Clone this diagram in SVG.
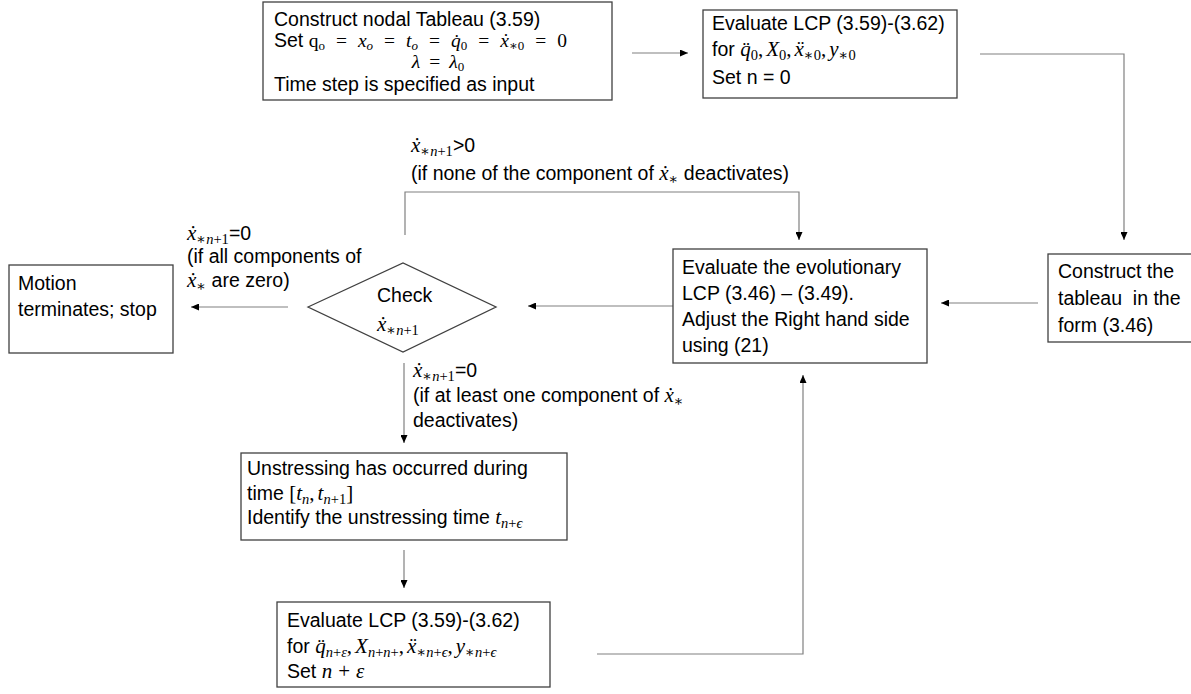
<svg xmlns="http://www.w3.org/2000/svg" width="1191" height="694" viewBox="0 0 1191 694">
<style>
.box{fill:#fff;stroke:#404040;stroke-width:1.3}
.t{font-family:"Liberation Sans",Arial,sans-serif;font-size:19.5px;fill:#000}
.mi{font-family:"Liberation Serif","DejaVu Serif",serif;font-style:italic;font-size:21px}
.mr{font-family:"Liberation Serif","DejaVu Serif",serif;font-style:normal;font-size:21px}
.si{font-family:"Liberation Serif","DejaVu Serif",serif;font-style:italic;font-size:14.5px}
.sr{font-family:"Liberation Serif","DejaVu Serif",serif;font-style:normal;font-size:14.5px}
.b1 .mi,.b1 .mr{font-size:19.5px}
.b1 .si,.b1 .sr{font-size:13px}
.conn{fill:none;stroke:#808080;stroke-width:1.2}
</style>
<defs>
<marker id="ah" markerWidth="8" markerHeight="7" refX="8" refY="3.5" orient="auto" markerUnits="userSpaceOnUse"><path d="M0,0 L8,3.5 L0,7 z" fill="#000"/></marker>
</defs>
<rect width="1191" height="694" fill="#fff"/>

<g id="connectors">
<path class="conn" d="M632,53 H688" marker-end="url(#ah)"/>
<path class="conn" d="M980,54 H1124 V240" marker-end="url(#ah)"/>
<path class="conn" d="M1038,303 H941" marker-end="url(#ah)"/>
<path class="conn" d="M673,306 H528" marker-end="url(#ah)"/>
<path class="conn" d="M288,307 H191" marker-end="url(#ah)"/>
<path class="conn" d="M405,235 V192 H799 V240" marker-end="url(#ah)"/>
<path class="conn" d="M404,363 V443" marker-end="url(#ah)"/>
<path class="conn" d="M404,550 V588" marker-end="url(#ah)"/>
<path class="conn" d="M597,654 H803 V375" marker-end="url(#ah)"/>
</g>

<g id="node-init" class="b1">
<rect class="box" x="263" y="2" width="349" height="98"/>
<text class="t" x="274" y="26">Construct nodal Tableau (3.59)</text>
<text class="t" x="274" y="47">Set <tspan class="mr">q</tspan><tspan class="sr" dy="3">o</tspan><tspan class="mr" dy="-3" dx="11">=</tspan><tspan class="mi" dx="11">x</tspan><tspan class="si" dy="3">o</tspan><tspan class="mr" dy="-3" dx="11">=</tspan><tspan class="mi" dx="11">t</tspan><tspan class="si" dy="3">o</tspan><tspan class="mr" dy="-3" dx="11">=</tspan><tspan class="mi" dx="11">q&#775;</tspan><tspan class="sr" dy="3">0</tspan><tspan class="mr" dy="-3" dx="11">=</tspan><tspan class="mi" dx="11">x&#775;</tspan><tspan class="sr" dy="3">∗0</tspan><tspan class="mr" dy="-3" dx="11">=</tspan><tspan class="mr" dx="11">0</tspan></text>
<text class="mi" x="438" y="68" text-anchor="middle">λ<tspan class="mr" dx="9">=</tspan><tspan dx="9">λ</tspan><tspan class="sr" dy="3">0</tspan></text>
<text class="t" x="274" y="91">Time step is specified as input</text>
</g>

<g id="node-lcp0">
<rect class="box" x="703" y="10" width="254" height="88"/>
<text class="t" x="712" y="30">Evaluate LCP (3.59)-(3.62)</text>
<text class="t" x="712" y="56">for <tspan class="mi">q&#776;</tspan><tspan class="sr" dy="4">0</tspan><tspan class="mr" dy="-4">,</tspan><tspan class="mi" dx="3">X</tspan><tspan class="sr" dy="4">0</tspan><tspan class="mr" dy="-4">,</tspan><tspan class="mi" dx="3">x&#776;</tspan><tspan class="sr" dy="4">∗0</tspan><tspan class="mr" dy="-4">,</tspan><tspan class="mi" dx="3">y</tspan><tspan class="sr" dy="4">∗0</tspan></text>
<text class="t" x="712" y="84">Set n = 0</text>
</g>

<g id="node-construct">
<rect class="box" x="1048" y="254" width="150" height="88"/>
<text class="t" x="1058" y="278">Construct the</text>
<text class="t" x="1058" y="305">tableau&#160; in the</text>
<text class="t" x="1058" y="332">form (3.46)</text>
</g>

<g id="node-evolve">
<rect class="box" x="673" y="249" width="254" height="114"/>
<text class="t" x="682" y="274">Evaluate the evolutionary</text>
<text class="t" x="682" y="300">LCP (3.46) – (3.49).</text>
<text class="t" x="682" y="326">Adjust the Right hand side</text>
<text class="t" x="682" y="352">using (21)</text>
</g>

<g id="node-check">
<path class="box" d="M308,307 L403,263 L496,307 L403,352 Z"/>
<text class="t" x="377" y="302">Check</text>
<text class="mi" x="377" y="331">x&#775;<tspan class="sr" dy="4">∗</tspan><tspan class="si">n</tspan><tspan class="sr">+1</tspan></text>
</g>

<g id="node-stop">
<rect class="box" x="9" y="265" width="164" height="88"/>
<text class="t" x="18" y="290">Motion</text>
<text class="t" x="18" y="316">terminates; stop</text>
</g>

<g id="node-unstress">
<rect class="box" x="241" y="453" width="326" height="87"/>
<text class="t" x="247" y="475">Unstressing has occurred during</text>
<text class="t" x="247" y="500">time <tspan class="mr">[</tspan><tspan class="mi">t</tspan><tspan class="si" dy="4">n</tspan><tspan class="mr" dy="-4">,</tspan><tspan class="mi" dx="3">t</tspan><tspan class="si" dy="4">n</tspan><tspan class="sr">+1</tspan><tspan class="mr" dy="-4">]</tspan></text>
<text class="t" x="247" y="524">Identify the unstressing time <tspan class="mi">t</tspan><tspan class="si" dy="4">n</tspan><tspan class="sr">+</tspan><tspan class="si">ϵ</tspan></text>
</g>

<g id="node-lcpeps">
<rect class="box" x="277" y="602" width="273" height="85"/>
<text class="t" x="287" y="627">Evaluate LCP (3.59)-(3.62)</text>
<text class="t" x="287" y="653">for <tspan class="mi">q&#776;</tspan><tspan class="si" dy="4">n</tspan><tspan class="sr">+</tspan><tspan class="si">ε</tspan><tspan class="mr" dy="-4">,</tspan><tspan class="mi" dx="3">X</tspan><tspan class="si" dy="4">n</tspan><tspan class="sr">+</tspan><tspan class="si">n</tspan><tspan class="sr">+</tspan><tspan class="mr" dy="-4">,</tspan><tspan class="mi" dx="3">x&#776;</tspan><tspan class="sr" dy="4">∗</tspan><tspan class="si">n</tspan><tspan class="sr">+</tspan><tspan class="si">ϵ</tspan><tspan class="mr" dy="-4">,</tspan><tspan class="mi" dx="3">y</tspan><tspan class="sr" dy="4">∗</tspan><tspan class="si">n</tspan><tspan class="sr">+</tspan><tspan class="si">ϵ</tspan></text>
<text class="t" x="287" y="678">Set <tspan class="mi">n</tspan><tspan class="mr" dx="6">+</tspan><tspan class="mi" dx="6">ε</tspan></text>
</g>

<g id="labels">
<text class="t" x="411" y="152"><tspan class="mi">x&#775;</tspan><tspan class="sr" dy="4">∗</tspan><tspan class="si">n</tspan><tspan class="sr">+1</tspan><tspan dy="-4">&gt;0</tspan></text>
<text class="t" x="411" y="180">(if none of the component of <tspan class="mi">x&#775;</tspan><tspan class="sr" dy="4">∗</tspan><tspan dy="-4"> deactivates)</tspan></text>
<text class="t" x="187" y="240"><tspan class="mi">x&#775;</tspan><tspan class="sr" dy="4">∗</tspan><tspan class="si">n</tspan><tspan class="sr">+1</tspan><tspan dy="-4">=0</tspan></text>
<text class="t" x="187" y="263">(if all components of</text>
<text class="t" x="187" y="287"><tspan class="mi">x&#775;</tspan><tspan class="sr" dy="4">∗</tspan><tspan dy="-4"> are zero)</tspan></text>
<text class="t" x="413" y="377"><tspan class="mi">x&#775;</tspan><tspan class="sr" dy="4">∗</tspan><tspan class="si">n</tspan><tspan class="sr">+1</tspan><tspan dy="-4">=0</tspan></text>
<text class="t" x="413" y="402">(if at least one component of <tspan class="mi">x&#775;</tspan><tspan class="sr" dy="4">∗</tspan></text>
<text class="t" x="413" y="427">deactivates)</text>
</g>
</svg>
